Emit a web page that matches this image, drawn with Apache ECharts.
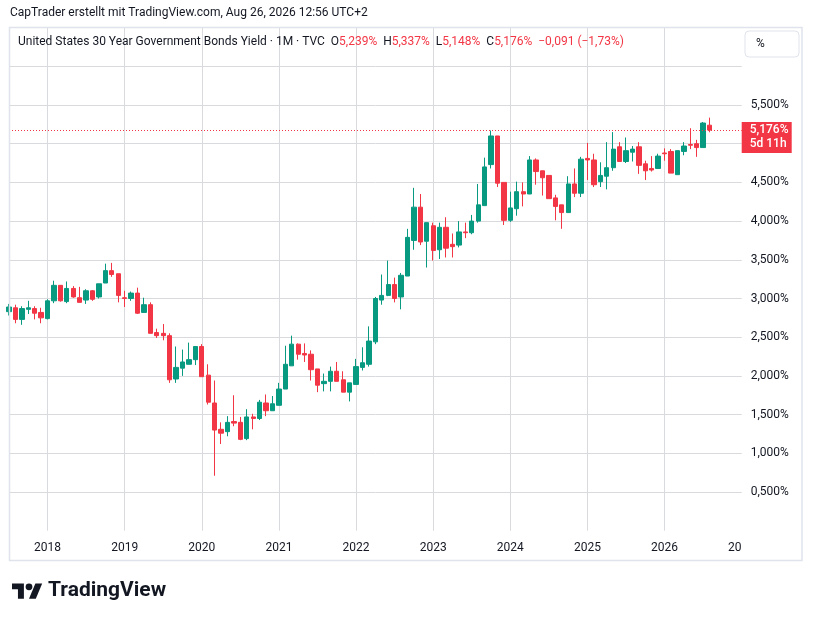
<!DOCTYPE html>
<html>
<head>
<meta charset="utf-8">
<script src="https://cdn.jsdelivr.net/npm/echarts@6/dist/echarts.min.js"></script>
<style>
html,body{margin:0;padding:0;background:#ffffff;}
#chart{width:813px;height:621px;}
</style>
</head>
<body>
<div id="chart"></div>
<script>
// ---- data (monthly candles, US 30Y yield, %) ----
const months = [
 '2017-07','2017-08','2017-09','2017-10','2017-11','2017-12',
 '2018-01','2018-02','2018-03','2018-04','2018-05','2018-06','2018-07','2018-08','2018-09','2018-10','2018-11','2018-12',
 '2019-01','2019-02','2019-03','2019-04','2019-05','2019-06','2019-07','2019-08','2019-09','2019-10','2019-11','2019-12',
 '2020-01','2020-02','2020-03','2020-04','2020-05','2020-06','2020-07','2020-08','2020-09','2020-10','2020-11','2020-12',
 '2021-01','2021-02','2021-03','2021-04','2021-05','2021-06','2021-07','2021-08','2021-09','2021-10','2021-11','2021-12',
 '2022-01','2022-02','2022-03','2022-04','2022-05','2022-06','2022-07','2022-08','2022-09','2022-10','2022-11','2022-12',
 '2023-01','2023-02','2023-03','2023-04','2023-05','2023-06','2023-07','2023-08','2023-09','2023-10','2023-11','2023-12',
 '2024-01','2024-02','2024-03','2024-04','2024-05','2024-06','2024-07','2024-08','2024-09','2024-10','2024-11','2024-12',
 '2025-01','2025-02','2025-03','2025-04','2025-05','2025-06','2025-07','2025-08','2025-09','2025-10','2025-11','2025-12',
 '2026-01','2026-02','2026-03','2026-04','2026-05','2026-06','2026-07','2026-08','2026-09','2026-10','2026-11','2026-12',
 '2027-01'
];
const opens = [
 2.83,2.88,2.73,2.86,2.87,2.82,
 2.74,2.97,3.17,2.96,3.13,3.01,2.98,3.10,3.02,3.20,3.36,3.32,
 3.01,3.00,3.07,2.82,2.92,2.56,2.55,2.52,1.96,2.10,2.15,2.21,
 2.38,2.01,1.65,1.31,1.28,1.41,1.40,1.19,1.47,1.45,1.65,1.55,
 1.62,1.83,2.13,2.41,2.29,2.28,2.09,1.90,1.93,2.06,1.95,1.79,
 1.89,2.11,2.15,2.44,2.98,3.04,3.18,3.02,3.29,3.75,4.18,3.74,
 3.94,3.63,3.92,3.70,3.69,3.86,3.85,4.00,4.20,4.73,5.10,4.50,
 4.01,4.16,4.38,4.35,4.79,4.65,4.59,4.30,4.21,4.11,4.48,4.36,
 4.81,4.79,4.51,4.58,4.69,4.96,4.77,4.89,4.96,4.74,4.68,4.68,
 4.88,4.90,4.60,4.90,4.99,5.00,4.95,5.239
];
const closes = [
 2.89,2.73,2.87,2.88,2.81,2.75,
 2.97,3.17,2.97,3.13,3.02,2.95,3.10,2.99,3.19,3.36,3.31,3.04,
 3.00,3.07,2.81,2.92,2.55,2.52,2.52,1.95,2.11,2.18,2.21,2.38,
 1.99,1.66,1.30,1.26,1.40,1.39,1.18,1.47,1.45,1.66,1.55,1.64,
 1.83,2.15,2.41,2.28,2.27,2.08,1.88,1.93,2.06,1.93,1.79,1.91,
 2.12,2.17,2.45,3.00,3.04,3.18,3.00,3.30,3.79,4.18,3.73,3.98,
 3.62,3.92,3.65,3.67,3.86,3.85,4.00,4.21,4.70,5.10,4.49,4.01,
 4.17,4.38,4.35,4.79,4.64,4.56,4.29,4.19,4.11,4.48,4.36,4.80,
 4.79,4.47,4.59,4.69,4.93,4.77,4.91,4.93,4.72,4.65,4.66,4.84,
 4.87,4.62,4.91,4.97,4.98,4.95,5.267,5.176
];
const lows = [
 2.78,2.68,2.66,2.80,2.73,2.68,
 2.73,2.94,2.96,2.94,3.01,2.95,2.93,2.97,3.00,3.20,3.28,2.95,
 2.89,2.97,2.80,2.82,2.55,2.49,2.46,1.91,1.91,2.00,2.15,2.14,
 1.99,1.63,0.71,1.12,1.22,1.35,1.17,1.17,1.31,1.43,1.48,1.55,
 1.62,1.83,2.13,2.21,2.18,1.94,1.79,1.80,1.80,1.93,1.79,1.67,
 1.89,2.07,2.12,2.41,2.92,3.03,2.95,2.86,3.29,3.63,3.69,3.40,
 3.49,3.51,3.53,3.53,3.66,3.78,3.83,3.98,4.20,4.68,4.44,3.95,
 3.99,4.07,4.19,4.35,4.47,4.33,4.29,4.01,3.90,4.11,4.31,4.31,
 4.53,4.44,4.44,4.41,4.65,4.77,4.75,4.77,4.61,4.53,4.64,4.68,
 4.78,4.62,4.60,4.85,4.93,4.83,4.95,5.148
];
const highs = [
 2.93,2.92,2.90,2.97,2.90,2.88,
 2.99,3.23,3.17,3.22,3.16,3.15,3.12,3.11,3.19,3.45,3.46,3.32,
 3.10,3.09,3.14,3.01,2.95,2.61,2.67,2.55,2.38,2.34,2.43,2.38,
 2.41,2.15,1.94,1.40,1.48,1.75,1.47,1.57,1.51,1.69,1.76,1.74,
 1.91,2.39,2.52,2.42,2.42,2.33,2.09,2.03,2.12,2.18,2.06,1.91,
 2.22,2.37,2.64,3.02,3.31,3.49,3.27,3.33,3.90,4.43,4.35,3.98,
 3.98,3.98,4.05,3.84,4.00,3.98,4.08,4.48,4.82,5.17,5.10,4.50,
 4.38,4.51,4.50,4.84,4.81,4.65,4.59,4.34,4.21,4.58,4.68,4.83,
 5.01,4.87,4.76,5.02,5.15,5.02,5.08,4.97,5.02,4.78,4.84,4.87,
 4.94,4.93,4.91,5.02,5.20,5.05,5.28,5.337
];
const yLabelValues = [0.5,1,1.5,2,2.5,3,3.5,4,4.5,5,5.5];
const titleLine = 'CapTrader erstellt mit TradingView.com, Aug 26, 2026 12:56 UTC+2';
const symbolName = 'United States 30 Year Government Bonds Yield · 1M · TVC';
const countdown = '5d 11h';

// ---- helpers ----
const UP = '#089981', DOWN = '#F23645', TXT = '#131722', GRID = '#d9dadd';
function pct(v, d) { return v.toFixed(d).replace('.', ',') + '%'; }
function signed(v, d) { return (v < 0 ? '\u2212' : '+') + Math.abs(v).toFixed(d).replace('.', ','); }

const candles = opens.map((o, i) => [o, closes[i], lows[i], highs[i]]);
const n = candles.length;
const lastO = opens[n-1], lastH = highs[n-1], lastL = lows[n-1], lastC = closes[n-1];
const chg = lastC - closes[n-2];
const chgPct = chg / closes[n-2] * 100;
const isJan = v => v.slice(5) === '01';

const chart = echarts.init(document.getElementById('chart'), null, {renderer: 'canvas'});

const ySplitColors = [];
for (let v = 0; v <= 6.5 + 1e-9; v += 0.5) ySplitColors.push((v < 0.25 || v > 6.25) ? 'rgba(0,0,0,0)' : GRID);

const FONT = 'Roboto, "Liberation Sans", sans-serif';

const option = {
  animation: false,
  backgroundColor: '#ffffff',
  textStyle: {fontFamily: FONT},
  grid: {left: 9, right: 71.3, top: 27.6, bottom: 90.3, containLabel: false},
  xAxis: {
    type: 'category',
    data: months,
    boundaryGap: false,
    axisLine: {show: false},
    axisTick: {show: false},
    axisLabel: {
      interval: (i, v) => isJan(v),
      showMaxLabel: true,
      color: TXT, fontSize: 12, margin: 11,
      formatter: v => v === months[months.length-1] ? '{e|' + v.slice(0,2) + '}' : v.slice(0,4),
      rich: {e: {color: TXT, fontSize: 12, padding: [0, 14, 0, 0]}}
    },
    splitLine: {show: true, interval: (i, v) => isJan(v) && v !== months[months.length-1], lineStyle: {color: GRID, width: 1}}
  },
  yAxis: {
    type: 'value',
    position: 'right',
    min: 0, max: 6.5, interval: 0.5,
    axisLine: {show: false},
    axisTick: {show: false},
    axisLabel: {
      color: TXT, fontSize: 12, margin: 9, align: 'left',
      formatter: v => yLabelValues.some(t => Math.abs(t - v) < 1e-6) ? pct(v, 3) : ''
    },
    splitLine: {show: true, lineStyle: {color: ySplitColors, width: 1}}
  },
  series: [{
    type: 'candlestick',
    data: candles,
    barWidth: 4.8,
    itemStyle: {color: UP, color0: DOWN, borderColor: UP, borderColor0: DOWN, borderWidth: 1},
    markLine: {
      silent: true,
      symbol: ['none', 'none'],
      label: {show: false},
      lineStyle: {color: DOWN, type: [1, 2], width: 1},
      data: [{yAxis: lastC}]
    }
  }]
};
chart.setOption(option);

// ---- overlay texts / price tag (positions from the library's scales) ----
const py = chart.convertToPixel({yAxisIndex: 0}, lastC);
const px = chart.convertToPixel({xAxisIndex: 0}, months[months.length-1]);

const legendText =
  '{t|' + symbolName + '}  ' +
  '{k|O}{v|' + pct(lastO, 3) + '}  ' +
  '{k|H}{v|' + pct(lastH, 3) + '}  ' +
  '{k|L}{v|' + pct(lastL, 3) + '}  ' +
  '{k|C}{v|' + pct(lastC, 3) + '}  ' +
  '{v|' + signed(chg, 3) + ' (' + signed(chgPct, 2) + '%)}';

chart.setOption({
  graphic: [
    {type: 'rect', id: 'frame', silent: true, z: 100,
     shape: {x: 9.5, y: 27.5, width: 792.5, height: 533},
     style: {fill: 'none', stroke: '#e0e3eb', lineWidth: 1.5}},
    {type: 'text', id: 'title', x: 10, y: 13,
     style: {text: titleLine, fill: TXT, font: '12px ' + FONT, verticalAlign: 'middle'}},
    {type: 'text', id: 'legend', x: 18, y: 42, z: 50,
     style: {text: legendText, verticalAlign: 'middle', font: '12px ' + FONT,
       rich: {t: {fill: TXT, font: '12px ' + FONT}, k: {fill: TXT, font: '12px ' + FONT}, v: {fill: DOWN, font: '12px ' + FONT}}}},
    {type: 'rect', id: 'unitbox', z: 50,
     shape: {x: 745, y: 31, width: 54, height: 26, r: 4},
     style: {fill: '#ffffff', stroke: '#e0e3eb', lineWidth: 1}},
    {type: 'text', id: 'unit', x: 756, y: 44, z: 51,
     style: {text: '%', fill: TXT, font: '12px ' + FONT, verticalAlign: 'middle'}},
    {type: 'rect', id: 'tag', z: 60,
     shape: {x: px, y: py - 8, width: 50, height: 31},
     style: {fill: DOWN}},
    {type: 'text', id: 'tag1', x: px + 8, y: py, z: 61,
     style: {text: pct(lastC, 3), fill: '#ffffff', font: '500 12px ' + FONT, verticalAlign: 'middle'}},
    {type: 'text', id: 'tag2', x: px + 8, y: py + 14, z: 61,
     style: {text: countdown, fill: '#ffffff', font: '500 12px ' + FONT, verticalAlign: 'middle'}},
    {type: 'polygon', id: 'logo1', x: 12, y: 580, scaleX: 0.85, scaleY: 0.85,
     shape: {points: [[14,22],[7,22],[7,11],[0,11],[0,4],[14,4]]}, style: {fill: TXT}},
    {type: 'circle', id: 'logo2', x: 12, y: 580, scaleX: 0.85, scaleY: 0.85,
     shape: {cx: 20, cy: 8, r: 4}, style: {fill: TXT}},
    {type: 'polygon', id: 'logo3', x: 12, y: 580, scaleX: 0.85, scaleY: 0.85,
     shape: {points: [[28,22],[20,22],[27.5,4],[35.5,4]]}, style: {fill: TXT}},
    {type: 'text', id: 'logotext', x: 48, y: 591,
     style: {text: 'TradingView', fill: TXT, font: 'bold 21px ' + FONT, verticalAlign: 'middle'}}
  ]
});
</script>
</body>
</html>
